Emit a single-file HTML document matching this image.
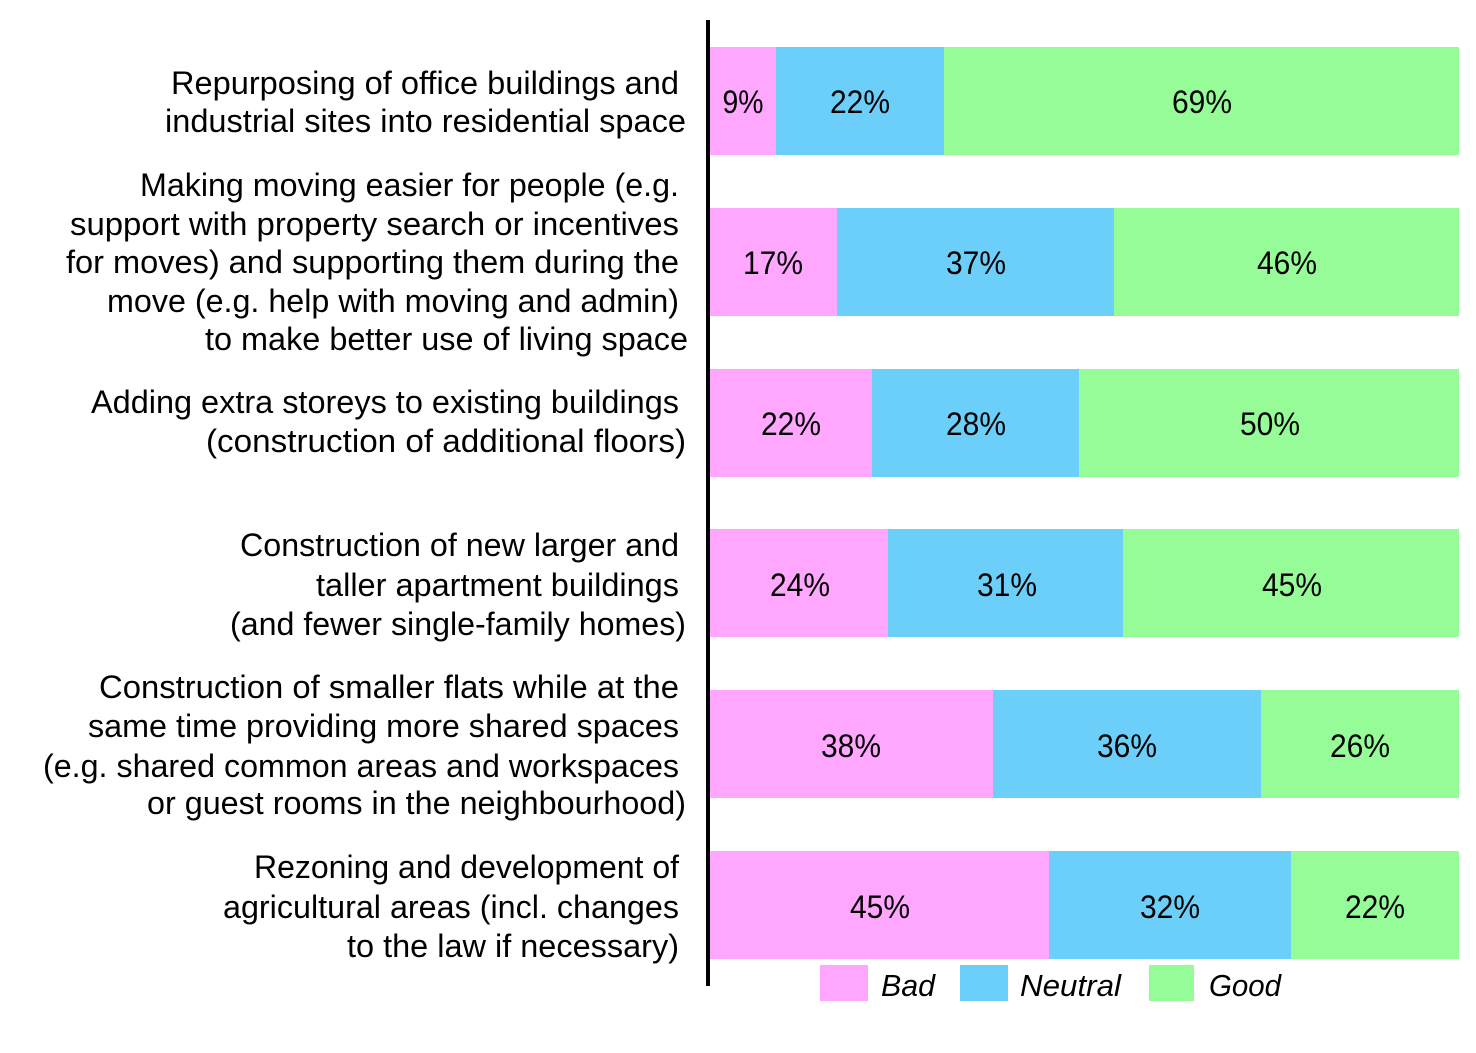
<!DOCTYPE html>
<html>
<head>
<meta charset="utf-8">
<style>
  html, body { margin: 0; padding: 0; background: #ffffff; }
  svg { display: block; }
  text { font-family: "Liberation Sans", Arial, sans-serif; fill: #000; }
  .lbl { font-size: 32px; }
  .pct { font-size: 32px; text-anchor: middle; }
  .leg { font-size: 31px; font-style: italic; }
</style>
</head>
<body>
<svg width="1476" height="1053" viewBox="0 0 1476 1053" xmlns="http://www.w3.org/2000/svg">
  <rect x="0" y="0" width="1476" height="1053" fill="#ffffff"/>

  <!-- Bar 1 -->
  <rect x="710" y="47" width="66" height="108" fill="#ffa6ff"/>
  <rect x="776" y="47" width="168" height="108" fill="#6bcff9"/>
  <rect x="944" y="47" width="515" height="108" fill="#96fc98"/>
  <text class="pct" x="743" y="113" textLength="41" lengthAdjust="spacingAndGlyphs">9%</text>
  <text class="pct" x="860" y="113" textLength="60" lengthAdjust="spacingAndGlyphs">22%</text>
  <text class="pct" x="1202" y="113" textLength="60" lengthAdjust="spacingAndGlyphs">69%</text>

  <!-- Bar 2 -->
  <rect x="710" y="208" width="127" height="108" fill="#ffa6ff"/>
  <rect x="837" y="208" width="277" height="108" fill="#6bcff9"/>
  <rect x="1114" y="208" width="345" height="108" fill="#96fc98"/>
  <text class="pct" x="773" y="274" textLength="60" lengthAdjust="spacingAndGlyphs">17%</text>
  <text class="pct" x="976" y="274" textLength="60" lengthAdjust="spacingAndGlyphs">37%</text>
  <text class="pct" x="1287" y="274" textLength="60" lengthAdjust="spacingAndGlyphs">46%</text>

  <!-- Bar 3 -->
  <rect x="710" y="369" width="162" height="108" fill="#ffa6ff"/>
  <rect x="872" y="369" width="207" height="108" fill="#6bcff9"/>
  <rect x="1079" y="369" width="380" height="108" fill="#96fc98"/>
  <text class="pct" x="791" y="435" textLength="60" lengthAdjust="spacingAndGlyphs">22%</text>
  <text class="pct" x="976" y="435" textLength="60" lengthAdjust="spacingAndGlyphs">28%</text>
  <text class="pct" x="1270" y="435" textLength="60" lengthAdjust="spacingAndGlyphs">50%</text>

  <!-- Bar 4 -->
  <rect x="710" y="529" width="178" height="108" fill="#ffa6ff"/>
  <rect x="888" y="529" width="235" height="108" fill="#6bcff9"/>
  <rect x="1123" y="529" width="336" height="108" fill="#96fc98"/>
  <text class="pct" x="800" y="596" textLength="60" lengthAdjust="spacingAndGlyphs">24%</text>
  <text class="pct" x="1007" y="596" textLength="60" lengthAdjust="spacingAndGlyphs">31%</text>
  <text class="pct" x="1292" y="596" textLength="60" lengthAdjust="spacingAndGlyphs">45%</text>

  <!-- Bar 5 -->
  <rect x="710" y="690" width="283" height="108" fill="#ffa6ff"/>
  <rect x="993" y="690" width="268" height="108" fill="#6bcff9"/>
  <rect x="1261" y="690" width="198" height="108" fill="#96fc98"/>
  <text class="pct" x="851" y="757" textLength="60" lengthAdjust="spacingAndGlyphs">38%</text>
  <text class="pct" x="1127" y="757" textLength="60" lengthAdjust="spacingAndGlyphs">36%</text>
  <text class="pct" x="1360" y="757" textLength="60" lengthAdjust="spacingAndGlyphs">26%</text>

  <!-- Bar 6 -->
  <rect x="710" y="851" width="339" height="108" fill="#ffa6ff"/>
  <rect x="1049" y="851" width="242" height="108" fill="#6bcff9"/>
  <rect x="1291" y="851" width="168" height="108" fill="#96fc98"/>
  <text class="pct" x="880" y="918" textLength="60" lengthAdjust="spacingAndGlyphs">45%</text>
  <text class="pct" x="1170" y="918" textLength="60" lengthAdjust="spacingAndGlyphs">32%</text>
  <text class="pct" x="1375" y="918" textLength="60" lengthAdjust="spacingAndGlyphs">22%</text>

  <!-- Axis line -->
  <rect x="706" y="20" width="4" height="966" fill="#000000"/>

  <!-- Category labels -->
  <text class="lbl" x="171" y="94" textLength="508" lengthAdjust="spacingAndGlyphs">Repurposing of office buildings and</text>
  <text class="lbl" x="165" y="132" textLength="521" lengthAdjust="spacingAndGlyphs">industrial sites into residential space</text>

  <text class="lbl" x="140" y="196" textLength="539" lengthAdjust="spacingAndGlyphs">Making moving easier for people (e.g.</text>
  <text class="lbl" x="70" y="235" textLength="609" lengthAdjust="spacingAndGlyphs">support with property search or  incentives</text>
  <text class="lbl" x="66" y="273" textLength="613" lengthAdjust="spacingAndGlyphs">for moves) and supporting them during the</text>
  <text class="lbl" x="107" y="312" textLength="572" lengthAdjust="spacingAndGlyphs">move (e.g. help with moving and admin)</text>
  <text class="lbl" x="205" y="350" textLength="483" lengthAdjust="spacingAndGlyphs">to make better use of living space</text>

  <text class="lbl" x="91" y="413" textLength="588" lengthAdjust="spacingAndGlyphs">Adding extra storeys to existing buildings</text>
  <text class="lbl" x="206" y="452" textLength="480" lengthAdjust="spacingAndGlyphs">(construction of additional floors)</text>

  <text class="lbl" x="240" y="556" textLength="439" lengthAdjust="spacingAndGlyphs">Construction of new larger and</text>
  <text class="lbl" x="316" y="596" textLength="363" lengthAdjust="spacingAndGlyphs">taller apartment buildings</text>
  <text class="lbl" x="230" y="635" textLength="456" lengthAdjust="spacingAndGlyphs">(and fewer single-family homes)</text>

  <text class="lbl" x="99" y="698" textLength="580" lengthAdjust="spacingAndGlyphs">Construction of smaller flats while at the</text>
  <text class="lbl" x="88" y="737" textLength="591" lengthAdjust="spacingAndGlyphs">same time providing more shared spaces</text>
  <text class="lbl" x="43" y="777" textLength="636" lengthAdjust="spacingAndGlyphs">(e.g. shared common areas and workspaces</text>
  <text class="lbl" x="147" y="814" textLength="539" lengthAdjust="spacingAndGlyphs">or guest rooms in the neighbourhood)</text>

  <text class="lbl" x="254" y="878" textLength="425" lengthAdjust="spacingAndGlyphs">Rezoning and development of</text>
  <text class="lbl" x="223" y="918" textLength="456" lengthAdjust="spacingAndGlyphs">agricultural areas (incl. changes</text>
  <text class="lbl" x="347" y="957" textLength="332" lengthAdjust="spacingAndGlyphs">to the law if necessary)</text>

  <!-- Legend -->
  <rect x="820" y="965" width="48" height="36" fill="#ffa6ff"/>
  <text class="leg" x="881" y="996" textLength="54" lengthAdjust="spacingAndGlyphs">Bad</text>
  <rect x="960" y="965" width="48" height="36" fill="#6bcff9"/>
  <text class="leg" x="1020" y="996" textLength="101" lengthAdjust="spacingAndGlyphs">Neutral</text>
  <rect x="1149" y="965" width="45" height="36" fill="#96fc98"/>
  <text class="leg" x="1209" y="996" textLength="72" lengthAdjust="spacingAndGlyphs">Good</text>
</svg>
</body>
</html>
